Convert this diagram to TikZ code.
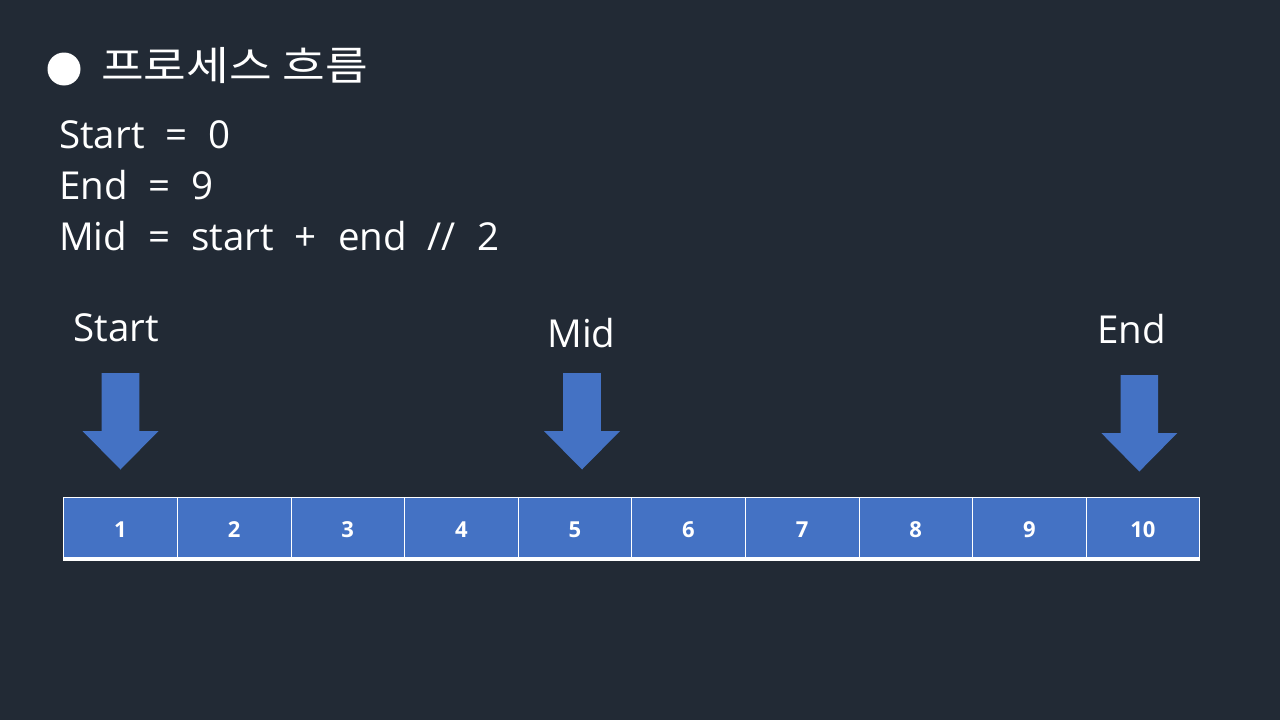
\documentclass[tikz,border=0pt]{standalone}
\usepackage{fontspec}
\setmainfont{Open Sans}[WordSpace=2.1]
\newfontfamily\krfont{Noto Sans CJK KR}
\definecolor{bgc}{HTML}{222A35}
\definecolor{blu}{HTML}{4472C4}
\newcommand\blockarrow[4]{% name, center x, shaft top y, offset
  \fill[blu] (#2-18.8,#3) -- (#2+18.8,#3) -- (#2+18.8,#3+58+#4) -- (#2+38,#3+58+#4)
    -- (#2,#3+96.5+#4) -- (#2-38,#3+58+#4) -- (#2-18.8,#3+58+#4) -- cycle;
  \coordinate (#1) at (#2,#3+96.5+#4);}
\begin{document}
\begin{tikzpicture}[x=1pt,y=-1pt,
  txt/.style={text=white,inner sep=0pt,font=\fontsize{38.5}{44}\selectfont},
  cell/.style={fill=blu,draw=white,line width=0.8pt,minimum width=113.6pt,minimum height=60pt,
    inner sep=0pt,text height=19.7pt,text depth=0pt,text=white,
    font=\fontsize{22}{24}\selectfont\bfseries,anchor=north west}]
\fill[bgc] (0,0) rectangle (1280,720);
\useasboundingbox (0,0) rectangle (1280,720);
% title
\fill[white] (64,69) circle (16.5);
\node[txt,anchor=base west,font=\krfont\fontsize{40}{48}\selectfont] (title) at (101,80) {\scalebox{1.16}[1]{프로세스 흐름}};
% code lines
\node[txt,anchor=base west] (l1) at (59,148.5) {Start = 0};
\node[txt,anchor=base west] (l2) at (59,199) {End = 9};
\node[txt,anchor=base west] (l3) at (59,250) {Mid = start + end // 2};
% labels
\node[txt,anchor=base] (ls) at (116,341) {Start};
\node[txt,anchor=base] (lm) at (581.5,347) {Mid};
\node[txt,anchor=base] (le) at (1131.5,343) {End};
% arrows
\blockarrow{as}{120.5}{373}{0}
\blockarrow{am}{582}{373}{0}
\blockarrow{ae}{1139.3}{375}{0}
% cells
\foreach \i in {1,...,10}{
  \node[cell] (c\i) at ({63.3+(\i-1)*113.6},497) {\i};
}
\draw[white,line width=3pt] (c1.south west) ++(0,1.5) -- ([yshift=-1.5pt]c10.south east);
\end{tikzpicture}
\end{document}
